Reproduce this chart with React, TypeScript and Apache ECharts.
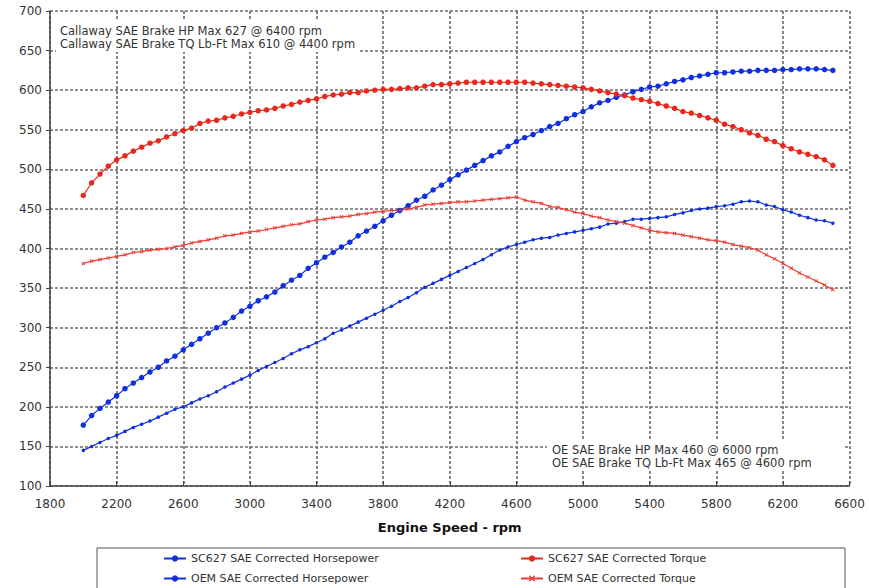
import React, { useEffect, useRef } from "react";
import * as echarts from "echarts";

const rpm = [
  2000, 2050, 2100, 2150, 2200, 2250, 2300, 2350, 2400, 2450, 2500, 2550, 2600,
  2650, 2700, 2750, 2800, 2850, 2900, 2950, 3000,
  3050, 3100, 3150, 3200, 3250, 3300, 3350, 3400,
  3450, 3500, 3550, 3600, 3650, 3700, 3750, 3800,
  3850, 3900, 3950, 4000, 4050, 4100, 4150, 4200,
  4250, 4300, 4350, 4400, 4450, 4500, 4550, 4600,
  4650, 4700, 4750, 4800, 4850, 4900, 4950, 5000,
  5050, 5100, 5150, 5200, 5250, 5300, 5350, 5400,
  5450, 5500, 5550, 5600, 5650, 5700, 5750, 5800,
  5850, 5900, 5950, 6000, 6050, 6100, 6150, 6200,
  6250, 6300, 6350, 6400, 6450, 6500,
];

const sc627Hp = [
  177, 189, 198, 206, 214, 223, 230, 237, 244, 250, 258, 264, 272,
  279, 286, 293, 300, 306, 313, 321, 327,
  334, 339, 345, 353, 360, 366, 375, 382,
  389, 395, 402, 408, 416, 422, 428, 435,
  442, 448, 454, 461, 466, 474, 480, 487,
  493, 499, 505, 511, 517, 522, 529, 535,
  540, 544, 549, 554, 558, 564, 569, 573,
  579, 584, 587, 591, 594, 598, 601, 604,
  605, 608, 611, 613, 616, 618, 620, 622,
  622, 623, 624, 624, 625, 625, 625, 626,
  626, 627, 627, 627, 626, 625,
];

const sc627Tq = [
  467, 483, 494, 504, 512, 517, 523, 528, 533, 536, 541, 545, 549,
  552, 558, 561, 562, 565, 567, 570, 572,
  574, 575, 577, 580, 582, 585, 587, 589,
  592, 594, 595, 597, 597, 599, 600, 601,
  601, 602, 603, 603, 605, 607, 607, 608,
  609, 610, 610, 610, 610, 610, 610, 610,
  610, 609, 608, 607, 606, 605, 604, 603,
  601, 599, 597, 595, 593, 590, 588, 586,
  583, 580, 577, 573, 571, 568, 565, 562,
  557, 554, 550, 546, 543, 538, 535, 530,
  526, 522, 519, 516, 512, 505,
];

const oemHp = [
  145, 150, 155, 160, 164, 169, 174, 178, 182, 187, 192, 197, 200,
  205, 210, 214, 219, 225, 230, 235, 240,
  246, 251, 256, 261, 267, 272, 276, 281,
  286, 293, 297, 302, 307, 312, 317, 322,
  327, 333, 338, 344, 351, 356, 361, 366,
  371, 376, 381, 386, 392, 398, 402, 405,
  408, 411, 413, 414, 417, 419, 421, 423,
  425, 427, 431, 432, 434, 437, 437, 438,
  439, 440, 443, 445, 448, 450, 451, 453,
  454, 456, 459, 460, 459, 455, 453, 449,
  446, 442, 439, 436, 435, 432,
];

const oemTq = [
  381, 384, 386, 388, 390, 392, 395, 396, 398, 399, 400, 402, 404,
  407, 409, 411, 413, 416, 417, 419, 421,
  422, 424, 426, 428, 430, 431, 434, 436,
  437, 439, 440, 441, 443, 444, 446, 447,
  448, 448, 450, 452, 455, 456, 457, 458,
  459, 459, 460, 461, 462, 463, 464, 465,
  461, 459, 457, 453, 452, 449, 446, 444,
  441, 439, 436, 434, 432, 429, 426, 423,
  421, 420, 419, 417, 415, 413, 411, 410,
  408, 405, 403, 401, 398, 392, 387, 381,
  375, 369, 364, 359, 354, 348,
];

const seriesNames = [
  "SC627 SAE Corrected Horsepower",
  "SC627 SAE Corrected Torque",
  "OEM SAE Corrected Horsepower",
  "OEM SAE Corrected Torque",
];

const topNotes = [
  "Callaway SAE Brake HP Max 627 @ 6400 rpm",
  "Callaway SAE Brake TQ Lb-Ft Max 610 @ 4400 rpm",
];
const bottomNotes = [
  "OE SAE Brake HP Max 460 @ 6000 rpm",
  "OE SAE Brake TQ Lb-Ft Max 465 @ 4600 rpm",
];

const BLUE = "#1030e0";
const RED = "#e8281c";
const RED_LIGHT = "#ee3a30";
const FONT = "DejaVu Sans";
const CROSS =
  "path://M0 1.5L1.5 0L5 3.5L8.5 0L10 1.5L6.5 5L10 8.5L8.5 10L5 6.5L1.5 10L0 8.5L3.5 5Z";

function pairs(vals: number[]) {
  return rpm.map((r, i) => [r, vals[i]]);
}

export default function App() {
  const ref = useRef<HTMLDivElement>(null);
  useEffect(() => {
    if (!ref.current) return;
    const chart = echarts.init(ref.current, null, { renderer: "svg" });
    const legendPos = [
      { left: 163, top: 553 },
      { left: 520, top: 553 },
      { left: 163, top: 573 },
      { left: 520, top: 573 },
    ];
    const gridLine = { show: true, lineStyle: { type: [3, 2], color: "#6a6a6a", width: 1.6 } };
    chart.setOption({
      animation: false,
      backgroundColor: "#ffffff",
      textStyle: { fontFamily: FONT },
      grid: { left: 50, right: 19.5, top: 11, bottom: 102, containLabel: false },
      xAxis: {
        type: "value",
        min: 1800,
        max: 6600,
        interval: 400,
        name: "Engine Speed - rpm",
        nameLocation: "middle",
        nameGap: 35,
        nameTextStyle: { fontFamily: FONT, fontSize: 13, fontWeight: "bold", color: "#111" },
        axisLine: { show: true, lineStyle: { color: "#444", width: 1.5 } },
        axisTick: { show: true, inside: true, length: 5, lineStyle: { color: "#444" } },
        axisLabel: {
          fontFamily: FONT,
          fontSize: 12,
          color: "#333",
          margin: 12,
          formatter: (v: number) => String(v),
        },
        splitLine: gridLine,
      },
      yAxis: {
        type: "value",
        min: 100,
        max: 700,
        interval: 50,
        axisLine: { show: true, lineStyle: { color: "#444", width: 1.5 } },
        axisTick: { show: true, inside: false, length: 4, lineStyle: { color: "#444" } },
        axisLabel: { fontFamily: FONT, fontSize: 12, color: "#333", margin: 8 },
        splitLine: gridLine,
      },
      legend: seriesNames.map((n, i) => ({
        data: [n],
        left: legendPos[i].left,
        top: legendPos[i].top,
        itemWidth: 22,
        itemHeight: 8,
        padding: 0,
        textStyle: { fontFamily: FONT, fontSize: 11, color: "#333" },
      })),
      graphic: [
        {
          type: "rect",
          shape: { x: 97, y: 548, width: 748, height: 60 },
          style: { fill: "none", stroke: "#555", lineWidth: 1 },
          silent: true,
        },
        {
          type: "rect",
          shape: { x: 56, y: 21, width: 304, height: 31 },
          style: { fill: "#ffffff" },
          silent: true,
          z: 10,
        },
        {
          type: "rect",
          shape: { x: 547, y: 441, width: 298, height: 30 },
          style: { fill: "#ffffff" },
          silent: true,
          z: 10,
        },
        ...topNotes.map((t, i) => ({
          type: "text",
          left: 60,
          top: 25 + i * 13,
          z: 11,
          style: { text: t, font: `11.5px ${FONT}`, fill: "#333" },
          silent: true,
        })),
        ...bottomNotes.map((t, i) => ({
          type: "text",
          left: 552,
          top: 444 + i * 13,
          z: 11,
          style: { text: t, font: `11.5px ${FONT}`, fill: "#333" },
          silent: true,
        })),
      ],
      series: [
        {
          name: seriesNames[0],
          type: "line",
          data: pairs(sc627Hp),
          symbol: "circle",
          symbolSize: 5.5,
          lineStyle: { color: BLUE, width: 1.2 },
          itemStyle: { color: BLUE },
        },
        {
          name: seriesNames[1],
          type: "line",
          data: pairs(sc627Tq),
          symbol: "circle",
          symbolSize: 5.5,
          lineStyle: { color: RED, width: 1.2 },
          itemStyle: { color: RED },
        },
        {
          name: seriesNames[2],
          type: "line",
          data: pairs(oemHp),
          symbol: "circle",
          symbolSize: 3.5,
          lineStyle: { color: BLUE, width: 1.2 },
          itemStyle: { color: BLUE },
        },
        {
          name: seriesNames[3],
          type: "line",
          data: pairs(oemTq),
          symbol: CROSS,
          symbolSize: 4,
          lineStyle: { color: RED_LIGHT, width: 1.2 },
          itemStyle: { color: RED_LIGHT },
        },
      ],
    });
    return () => chart.dispose();
  }, []);
  return (
    <div
      ref={ref}
      style={{ position: "fixed", left: 0, top: 0, width: 869, height: 588, background: "#fff" }}
    />
  );
}
